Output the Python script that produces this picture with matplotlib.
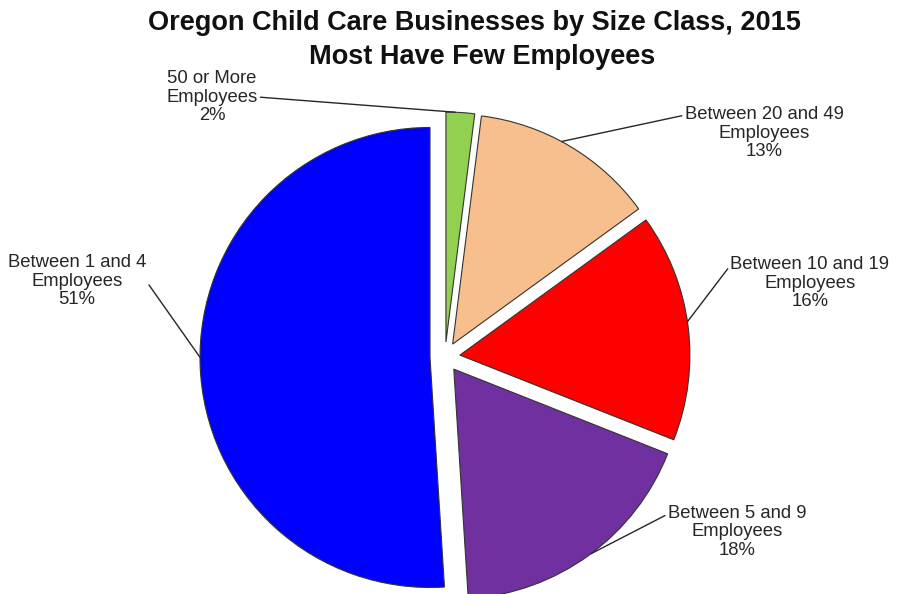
import numpy as np
import matplotlib
matplotlib.use('Agg')
import matplotlib.pyplot as plt

# --- data ---
categories = ['50 or More\nEmployees', 'Between 20 and 49\nEmployees',
              'Between 10 and 19\nEmployees', 'Between 5 and 9\nEmployees',
              'Between 1 and 4\nEmployees']
shares = [2, 13, 16, 18, 51]
colors = ['#92D050', '#F7BE8E', '#FF0000', '#7030A0', '#0000FF']

plt.rcParams['font.family'] = ['Liberation Sans', 'DejaVu Sans']

W, H = 904, 594
fig = plt.figure(figsize=(W / 100, H / 100), dpi=100)
ax = fig.add_axes([0, 0, 1, 1])

# pie drawn in pixel-like data units (y up)
cx, cy, r = 445, H - 357, 230
wedges, _ = ax.pie(shares, colors=colors, startangle=90, counterclock=False,
                   center=(cx, cy), radius=r, explode=[15] * len(shares),
                   wedgeprops=dict(edgecolor='#333333', linewidth=0.8))
ax.set_xlim(0, W)
ax.set_ylim(0, H)
ax.set_aspect('equal')
ax.axis('off')

# label placement (image px: x, y of block centre), leader point within wedge, side
label_pos = [(212, 97), (764, 133), (810, 283), (737, 532), (77, 281)]
arc_frac = [0.68, 0.55, 0.52, 0.51, 0.49]
relpos = [(1, 0.5), (0, 0.83), (0, 0.83), (0, 0.83), (1, 0.5)]

for w, cat, val, (lx, ly), f, rp in zip(wedges, categories, shares,
                                        label_pos, arc_frac, relpos):
    ang = np.deg2rad(w.theta1 + f * (w.theta2 - w.theta1))
    px = w.center[0] + w.r * np.cos(ang)
    py = w.center[1] + w.r * np.sin(ang)
    ax.annotate(f'{cat}\n{val}%', xy=(px, py), xytext=(lx, H - ly),
                ha='center', va='center', fontsize=13.3, color='#262626',
                linespacing=1.12,
                arrowprops=dict(arrowstyle='-', color='#262626', lw=1.0,
                                shrinkA=0, shrinkB=0, relpos=rp))

fig.text(474 / W, 1 - 23 / H, 'Oregon Child Care Businesses by Size Class, 2015',
         ha='center', va='center', fontsize=19.5, fontweight='bold', color='#111111')
fig.text(482 / W, 1 - 57 / H, 'Most Have Few Employees',
         ha='center', va='center', fontsize=19.5, fontweight='bold', color='#111111')

fig.savefig('out.png', dpi=100)
